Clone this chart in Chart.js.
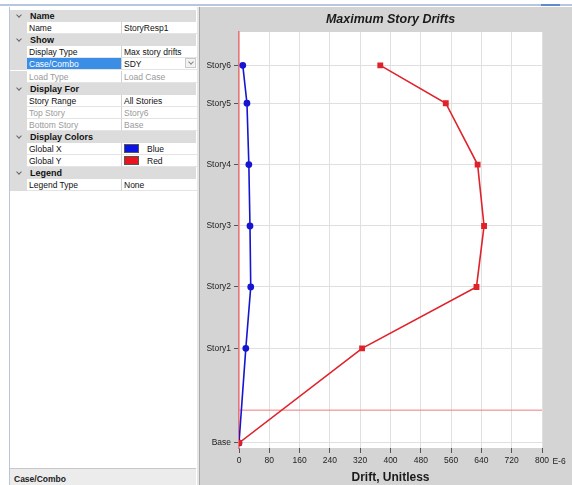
<!DOCTYPE html>
<html>
<head>
<meta charset="utf-8">
<script src="https://cdn.jsdelivr.net/npm/chart.js@4.4.0/dist/chart.umd.min.js"></script>
<style>
  body { margin: 0; width: 572px; height: 485px; overflow: hidden; background: #fff; position: relative; font-family: "Liberation Sans", Arial, sans-serif; }
  .topline { position: absolute; left: 0; top: 4px; width: 572px; height: 2px; background: #b7c6df; }
  .topmark { position: absolute; left: 541px; top: 4px; width: 19px; height: 2px; background: #5f8ccc; }
  .panel { position: absolute; left: 9px; top: 7px; width: 187px; height: 478px; background: #fff; border-left: 1px solid #b9c6da; border-right: 1px solid #a8a8a8; }
  .row { position: absolute; left: 10px; width: 186px; height: 12px; font-size: 8.5px; line-height: 12px; color: #111; white-space: nowrap; }
  .row.cat { background: #dcdcdc; font-weight: bold; font-size: 9px; }
  .row .chev { position: absolute; left: 7px; top: 3px; width: 3px; height: 3px; border-right: 1px solid #666; border-bottom: 1px solid #666; transform: rotate(45deg); }
  .row .gut { position: absolute; left: 0; top: 0; width: 17px; height: 12px; background: #dcdcdc; }
  .row .lab { position: absolute; left: 17px; top: 0; width: 93px; height: 11px; padding-left: 2px; border-bottom: 1px solid #e4e4e4; }
  .row .val { position: absolute; left: 111px; top: 0; width: 73px; height: 11px; padding-left: 2px; border-left: 1px solid #d2d2d2; border-bottom: 1px solid #e4e4e4; }
  .row.cat .txt { position: absolute; left: 20px; }
  .row .lab.sel { background: #3a8ee6; color: #fff; }
  .dim { color: #9a9a9a; }
  .sw { display: inline-block; width: 15px; height: 9px; vertical-align: -1px; margin-right: 8px; border: 1px solid #555; box-sizing: border-box; }
  .dd { position: absolute; right: 1px; top: 0; width: 11px; height: 10px; border: 1px solid #c9c9c9; background: #f2f2f2; box-sizing: border-box; }
  .dd::after { content: ''; position: absolute; left: 3px; top: 1px; width: 3px; height: 3px; border-right: 1px solid #888; border-bottom: 1px solid #888; transform: rotate(45deg); }
  .status { position: absolute; left: 10px; top: 468px; width: 186px; height: 17px; background: #ececec; border-top: 1px solid #c8c8c8; font-size: 8.5px; font-weight: bold; line-height: 21px; padding-left: 4px; box-sizing: border-box; color: #222; }
  .sep { position: absolute; left: 197px; top: 7px; width: 3px; height: 478px; background: #e6e6e6; border-right: 1px solid #a8a8a8; box-sizing: border-box; }
  #wrap { position: absolute; left: 200px; top: 7px; width: 372px; height: 478px; background: #d4d4d4; }
</style>
</head>
<body>
<div class="topline"></div>
<div class="topmark"></div>
<div class="panel"></div>
<div id="rows"></div>
<div class="status">Case/Combo</div>
<div class="sep"></div>
<div id="wrap"><canvas id="driftChart" width="372" height="478"></canvas></div>

<script>
// story data
const storyNames = ['Base', 'Story1', 'Story2', 'Story3', 'Story4', 'Story5', 'Story6'];
const storyElev = [0, 4.62, 7.62, 10.6, 13.6, 16.6, 18.45];
const driftGlobalX = [0, 18, 31, 29, 26, 21, 10];
const driftGlobalY = [0, 325, 627, 647, 630, 546, 373];
const xTicks = [0, 80, 160, 240, 320, 400, 480, 560, 640, 720, 800];
const baseLineElev = 1.6;

// property grid rows: [kind, label, value, flags]
const propRows = [
  ['cat', 'Name'],
  ['prop', 'Name', 'StoryResp1'],
  ['cat', 'Show'],
  ['prop', 'Display Type', 'Max story drifts'],
  ['prop', 'Case/Combo', 'SDY', 'sel'],
  ['prop', 'Load Type', 'Load Case', 'dim'],
  ['cat', 'Display For'],
  ['prop', 'Story Range', 'All Stories'],
  ['prop', 'Top Story', 'Story6', 'dim'],
  ['prop', 'Bottom Story', 'Base', 'dim'],
  ['cat', 'Display Colors'],
  ['prop', 'Global X', 'Blue', 'blue'],
  ['prop', 'Global Y', 'Red', 'red'],
  ['cat', 'Legend'],
  ['prop', 'Legend Type', 'None']
];

const rowsEl = document.getElementById('rows');
rowsEl.innerHTML = propRows.map((r, i) => {
  const top = 10 + i * 12.1;
  if (r[0] === 'cat') {
    return `<div class="row cat" style="top:${top}px"><span class="chev"></span><span class="txt">${r[1]}</span></div>`;
  }
  const flag = r[3] || '';
  let val = r[2];
  if (flag === 'blue') val = `<span class="sw" style="background:#0a14e6"></span>${val}`;
  if (flag === 'red') val = `<span class="sw" style="background:#e8141e"></span>${val}`;
  if (flag === 'sel') val = `${val}<span class="dd"></span>`;
  return `<div class="row" style="top:${top}px"><span class="gut"></span>` +
    `<span class="lab ${flag === 'sel' ? 'sel' : ''} ${flag === 'dim' ? 'dim' : ''}">${r[1]}</span>` +
    `<span class="val ${flag === 'dim' ? 'dim' : ''}">${val}</span></div>`;
}).join('');

const panelDecor = {
  id: 'panelDecor',
  beforeDraw(chart) {
    const { ctx, chartArea: a } = chart;
    ctx.save();
    ctx.fillStyle = '#ffffff';
    ctx.fillRect(a.left, a.top, a.right - a.left, a.bottom - a.top);
    ctx.restore();
  },
  afterDraw(chart) {
    const { ctx, chartArea: a } = chart;
    ctx.save();
    ctx.fillStyle = '#1a1a1a';
    ctx.textAlign = 'center';
    ctx.textBaseline = 'middle';
    ctx.font = 'italic bold 12.5px "Liberation Sans", Arial, sans-serif';
    ctx.fillText('Maximum Story Drifts', (a.left + a.right) / 2, 13);
    ctx.font = '8.5px "Liberation Sans", Arial, sans-serif';
    ctx.fillStyle = '#222';
    ctx.fillText('E-6', a.right + 17, a.bottom + 13.5);
    ctx.restore();
  }
};

const toPoints = vals => vals.map((v, i) => ({ x: v, y: storyElev[i] }));

new Chart(document.getElementById('driftChart'), {
  type: 'scatter',
  data: {
    datasets: [
      {
        label: 'Global Y',
        data: toPoints(driftGlobalY),
        showLine: true,
        borderColor: '#e0222a',
        backgroundColor: '#e0222a',
        borderWidth: 1.6,
        pointStyle: 'rect',
        pointRadius: 3,
        pointHoverRadius: 3
      },
      {
        label: 'Global X',
        data: toPoints(driftGlobalX),
        showLine: true,
        borderColor: '#1515d2',
        backgroundColor: '#1515d2',
        borderWidth: 1.6,
        pointStyle: 'circle',
        pointRadius: 2.6,
        pointHoverRadius: 2.6
      },
      {
        label: 'Base line',
        data: [{ x: 0, y: baseLineElev }, { x: 800, y: baseLineElev }],
        showLine: true,
        borderColor: '#f07c7c',
        borderWidth: 1,
        pointRadius: 0
      }
    ]
  },
  options: {
    responsive: false,
    animation: false,
    events: [],
    layout: { padding: { top: 25, right: 30, left: 0, bottom: 0 } },
    plugins: { legend: { display: false }, title: { display: false }, tooltip: { enabled: false } },
    scales: {
      x: {
        type: 'linear',
        min: 0,
        max: 800,
        afterBuildTicks: s => { s.ticks = xTicks.map(v => ({ value: v })); },
        afterFit: s => { s.height = 37; },
        grid: { color: '#e0e0e0', tickColor: '#555', tickLength: 5, lineWidth: 1 },
        border: { display: false },
        ticks: { color: '#222', font: { size: 8.5, family: '"Liberation Sans", Arial, sans-serif' }, padding: 3, maxRotation: 0 },
        title: { display: true, text: 'Drift, Unitless', color: '#1a1a1a', font: { size: 12, weight: 'bold', family: '"Liberation Sans", Arial, sans-serif' }, padding: { top: 0, bottom: 0 } }
      },
      y: {
        type: 'linear',
        min: -0.25,
        max: 20.08,
        afterBuildTicks: s => { s.ticks = storyElev.map(v => ({ value: v })); },
        afterFit: s => { s.width = 39; },
        grid: { color: '#e0e0e0', tickColor: '#555', tickLength: 5, lineWidth: 1 },
        border: { display: true, color: '#ee7373', width: 1.5 },
        ticks: {
          color: '#222',
          font: { size: 8.5, family: '"Liberation Sans", Arial, sans-serif' },
          padding: 3,
          callback: (v, i) => storyNames[i]
        }
      }
    }
  },
  plugins: [panelDecor]
});
</script>
</body>
</html>
